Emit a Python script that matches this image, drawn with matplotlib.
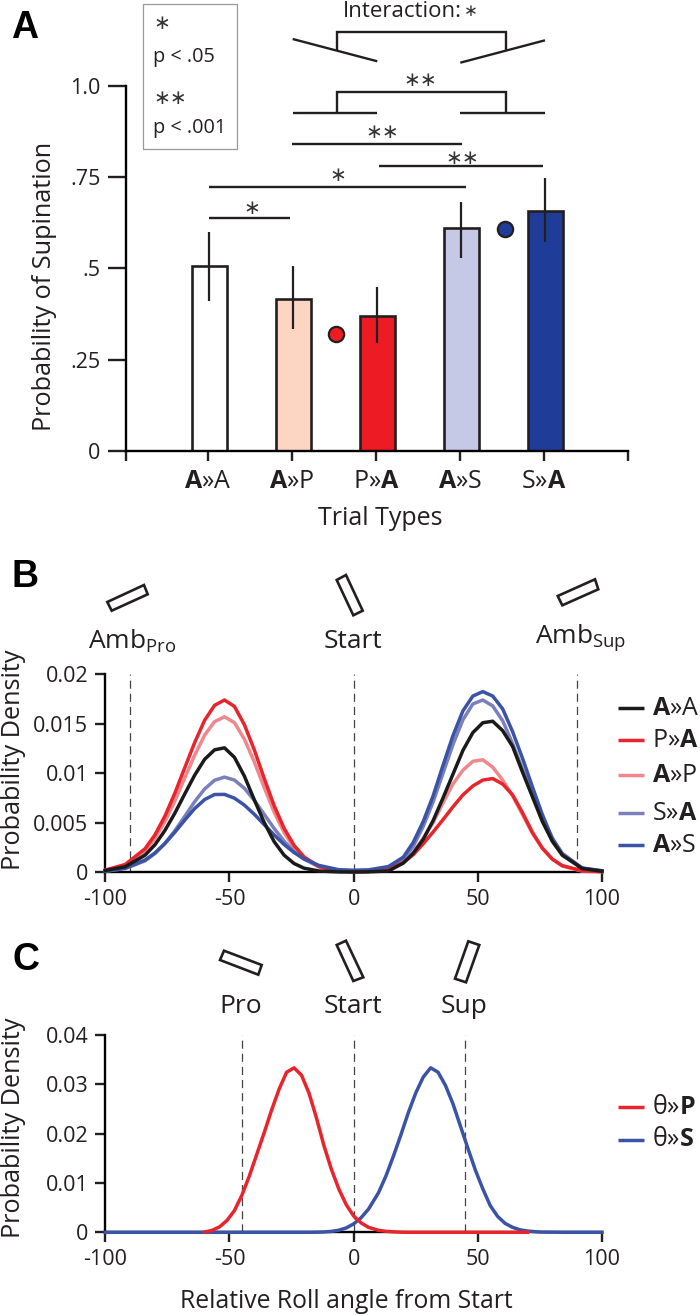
#!/usr/bin/env python3
import numpy as np
import matplotlib
matplotlib.use('Agg')
import matplotlib.pyplot as plt
from matplotlib.patches import Polygon, Rectangle

W, H = 700, 1315
INK = '#231f20'
FONT = 'Open Sans'

plt.rcParams['font.family'] = [FONT, 'DejaVu Sans']
plt.rcParams['mathtext.fontset'] = 'custom'
plt.rcParams['mathtext.rm'] = FONT
plt.rcParams['mathtext.bf'] = FONT + ':bold'
plt.rcParams['text.color'] = INK

# Panel A
trial_types = [r'$\mathbf{A}$»A', r'$\mathbf{A}$»P', r'P»$\mathbf{A}$', r'$\mathbf{A}$»S', r'S»$\mathbf{A}$']
prob_sup = [0.506, 0.417, 0.369, 0.61, 0.657]
err_low = [0.41, 0.334, 0.295, 0.528, 0.572]
err_high = [0.60, 0.507, 0.45, 0.682, 0.746]
bar_colors = ['white', '#fcd5c3', '#ed1c24', '#c5c9e5', '#1f3c98']
dot_x = [1.518, 3.536]
dot_y = [0.32, 0.608]
dot_colors = ['#ed1c24', '#1f3c98']
a_yticks = [0, 0.25, 0.5, 0.75, 1.0]
a_ylabels = ['0', '.25', '.5', '.75', '1.0']

# Panel B, densities in thousandths
b_x = [-100, -92, -84, -80, -76, -72, -68, -64, -60, -56, -52, -48, -44, -40, -36, -32, -28, -24, -20, -14, -6, 0,
       6, 14, 20, 24, 28, 32, 36, 40, 44, 48, 52, 56, 60, 64, 68, 72, 76, 80, 84, 92, 100]
b_aa = [.15, .53, 1.7, 2.76, 4.2, 5.95, 7.9, 9.8, 11.4, 12.36, 12.56, 11.6, 9.7, 7.3, 5.0, 3.07, 1.7, .86, .39, .1, .01, 0,
        .02, .1, .9, 1.9, 3.3, 5.2, 7.5, 9.9, 12.3, 14.1, 15.1, 15.25, 14.3, 12.7, 10.1, 7.6, 5.1, 3.1, 1.7, .35, .08]
b_pa = [.19, .76, 2.35, 3.76, 5.65, 7.97, 10.55, 13.1, 15.35, 16.86, 17.4, 16.75, 14.9, 12.35, 9.46, 6.7, 4.42, 2.7, 1.53, .56, .11, .02,
        .05, .3, .95, 1.75, 2.85, 4.05, 5.3, 6.6, 7.8, 8.7, 9.3, 9.45, 8.9, 7.8, 6.0, 4.0, 2.4, 1.3, .65, .12, .03]
b_ap = [.17, .69, 2.12, 3.39, 5.1, 7.19, 9.52, 11.82, 13.85, 15.21, 15.7, 15.11, 13.44, 11.14, 8.54, 6.05, 3.99, 2.44, 1.38, .5, .1, .02,
        .05, .3, 1.1, 2.0, 3.4, 5.0, 7.0, 8.9, 10.3, 11.2, 11.35, 10.6, 9.3, 7.7, 5.8, 3.9, 2.4, 1.3, .6, .1, .03]
b_sa = [.08, .34, 1.13, 1.87, 2.89, 4.17, 5.63, 7.12, 8.4, 9.28, 9.6, 9.3, 8.47, 7.25, 5.83, 4.4, 3.12, 2.07, 1.3, .57, .15, .1,
        .12, .45, 1.3, 2.6, 4.6, 7.1, 10.0, 12.9, 15.4, 17.0, 17.4, 16.8, 15.3, 13.0, 10.4, 7.9, 5.4, 3.4, 1.9, .4, .1]
b_as = [.1, .39, 1.21, 1.93, 2.88, 4.02, 5.25, 6.42, 7.33, 7.84, 7.85, 7.47, 6.77, 5.84, 4.79, 3.75, 2.78, 1.97, 1.33, .67, .23, .18,
        .22, .55, 1.5, 3.0, 5.1, 7.7, 10.8, 13.8, 16.3, 17.8, 18.25, 17.8, 16.5, 14.2, 11.5, 8.6, 5.8, 3.4, 1.8, .4, .13]
b_yticks = [0, 0.005, 0.01, 0.015, 0.02]
b_ylabels = ['0', '0.005', '0.01', '0.015', '0.02']
b_marks = [-90, 0, 90]

# Panel C, densities in thousandths (nan where the red line is hidden under the blue one)
c_x = [-100, -80, -66, -63, -60, -57, -54, -51, -48, -45, -42, -39, -36, -33, -30, -27, -24, -21, -18, -15, -12, -9,
       -6, -3, 0, 3, 6, 10, 13, 16, 19, 22, 25, 28, 31, 34, 37, 40, 43, 46, 49, 52, 55, 58, 61, 64, 67, 70, 75, 85, 100]
c_p = [np.nan, np.nan, np.nan, np.nan, .05, .4, 1.1, 2.4, 4.4, 7.5, 11.4, 15.8, 20.2, 24.8, 29.0, 32.4, 33.3, 31.8, 28.2, 23.2, 17.6, 12.8,
       8.8, 5.6, 3.3, 1.9, 1.0, .4, .2, .1, .03, 0, 0, 0, 0, 0, 0, 0, 0, 0, 0, 0, 0, 0, 0, 0, 0, 0, np.nan, np.nan, np.nan]
c_s = [0, 0, 0, 0, 0, 0, 0, 0, 0, 0, 0, 0, 0, 0, 0, 0, 0, 0, .01, .02, .07, .18,
       .42, .88, 1.7, 2.95, 4.7, 8.0, 11.4, 15.4, 19.7, 24.2, 28.2, 31.4, 33.3, 32.4, 29.7, 26.0, 21.5, 17.0, 12.6, 8.8, 5.4, 3.2, 1.8, 1.0, .5, .25, .05, 0, 0]
c_yticks = [0, 0.01, 0.02, 0.03, 0.04]
c_ylabels = ['0', '0.01', '0.02', '0.03', '0.04']
c_marks = [-45, 0, 45]

roll_ticks = [-100, -50, 0, 50, 100]
roll_labels = ['-100', '-50', '0', '50', '100']

RED = '#e8242c'
PINK = '#f0878c'
BLACK = '#1a1a1a'
PURPLE = '#7a80bd'
BLUE = '#3a53a4'


def axes_px(fig, left, right, top, bottom):
    return fig.add_axes([left / W, 1 - bottom / H, (right - left) / W, (bottom - top) / H])


def style(ax):
    ax.spines['top'].set_visible(False)
    ax.spines['right'].set_visible(False)
    ax.spines['left'].set_linewidth(1.7)
    ax.spines['bottom'].set_linewidth(1.7)
    ax.patch.set_alpha(0)


def density_axes(fig, top, bottom, yticks, ylabels, ymax, marks):
    ax = axes_px(fig, 105.3, 602, top, bottom)
    style(ax)
    ax.set_xlim(-100, 100)
    ax.set_ylim(0, ymax)
    ax.set_xticks(roll_ticks)
    ax.set_xticklabels(roll_labels)
    ax.set_yticks(yticks)
    ax.set_yticklabels(ylabels)
    ax.tick_params(axis='both', length=7.2, width=1.7, color=INK, labelsize=15.5, labelcolor=INK)
    ax.tick_params(axis='x', pad=5)
    ax.tick_params(axis='y', pad=5)
    for m in marks:
        ax.plot([m, m], [0, ymax], color='#444444', lw=0.9, dashes=(6.5, 4), zorder=1)
    return ax


fig = plt.figure(figsize=(W / 100, H / 100), dpi=100)
fig.patch.set_facecolor('white')

# A
ax_a = axes_px(fig, 126, 628, 85.7, 451)
style(ax_a)
pos = np.arange(len(prob_sup))
ax_a.bar(pos + 0.02, prob_sup, width=0.42, color=bar_colors, edgecolor=INK, linewidth=1.9, zorder=2)
ax_a.vlines(pos + 0.012, err_low, err_high, color=INK, lw=1.6, zorder=3)
for x, y, c in zip(dot_x, dot_y, dot_colors):
    ax_a.plot([x], [y], 'o', ms=11, mfc=c, mec=INK, mew=1.6, zorder=3)
ax_a.set_xlim(-0.976, 5)
ax_a.set_ylim(0, 1)
ax_a.set_xticks([-0.976, 0, 1, 2, 3, 4, 5])
ax_a.set_xticklabels([''] + trial_types + [''])
ax_a.set_yticks(a_yticks)
ax_a.set_yticklabels(a_ylabels)
ax_a.tick_params(axis='y', length=13, width=1.7, color=INK, labelsize=15.5, labelcolor=INK, pad=5.5)
ax_a.tick_params(axis='x', length=7.2, width=1.7, color=INK, labelsize=18, labelcolor=INK, pad=6)

# B
ax_b = density_axes(fig, 674.3, 872, b_yticks, b_ylabels, 0.02, b_marks)
b_series = [(b_ap, PINK), (b_sa, PURPLE), (b_pa, RED), (b_as, BLUE), (b_aa, BLACK)]
for vals, c in b_series:
    ax_b.plot(b_x, np.array(vals) / 1000, color=c, lw=2.5, clip_on=False, zorder=3, solid_joinstyle='round')

# C
ax_c = density_axes(fig, 1034.7, 1232.3, c_yticks, c_ylabels, 0.04, c_marks)
ax_c.plot(c_x, np.array(c_s) / 1000, color=BLUE, lw=2.5, clip_on=False, zorder=3)
ax_c.plot(c_x, np.array(c_p) / 1000, color=RED, lw=2.5, clip_on=False, zorder=4)

# everything else sits on a pixel-sized overlay
ov = fig.add_axes([0, 0, 1, 1], zorder=5)
ov.set_xlim(0, W)
ov.set_ylim(H, 0)
ov.axis('off')

for label, x, y in [('A', 11, 38), ('B', 12, 587), ('C', 12, 970)]:
    ov.text(x, y, label, family='Liberation Sans', weight='bold', size=27, color='black', ha='left', va='baseline')

ov.text(45, 286, 'Probability of Supination', rotation=90, size=18.2, ha='center', va='center')
ov.text(380, 518, 'Trial Types', size=18, ha='center', va='center')
ov.text(14, 760, 'Probability Density', rotation=90, size=18.2, ha='center', va='center')
ov.text(14, 1128, 'Probability Density', rotation=90, size=18.2, ha='center', va='center')
ov.text(346, 1308, 'Relative Roll angle from Start', size=17.8, ha='center', va='baseline')

# p value key
ov.add_patch(Rectangle((143, 4.3), 94.3, 144.4, fc='white', ec='#999999', lw=0.9))
ov.text(153, 62, 'p < .05', size=14.3, va='baseline')
ov.text(153, 133, 'p < .001', size=14.3, va='baseline')


def stars(x, y, s, size=14.5, ha='center'):
    ov.text(x, y, s, family='DejaVu Sans', size=size, ha=ha, va='center', color='#333333')


stars(153, 23, '∗', ha='left')
stars(153, 98, '∗∗', ha='left')

# significance brackets
sig_lines = [
    ([209, 290], [217.7, 217.7]),
    ([209, 466], [187, 187]),
    ([291.7, 462.3], [144, 144]),
    ([379, 543.3], [166.3, 166.3]),
    ([292.7, 377.3], [113, 113]),
    ([460.3, 545], [113, 113]),
    ([336.7, 336.7, 505.7, 505.7], [113, 92.3, 92.3, 113]),
    ([336.7, 336.7, 505.7, 505.7], [50, 32, 32, 50]),
    ([292.7, 377.3], [39, 61.3]),
    ([460.3, 545], [62.7, 40.3]),
]
for xs, ys in sig_lines:
    ov.plot(xs, ys, color=INK, lw=1.7, solid_capstyle='butt', solid_joinstyle='miter')
stars(252, 208, '∗')
stars(337.7, 175, '∗')
stars(382, 132.7, '∗∗')
stars(462.7, 158, '∗∗')
stars(420, 80, '∗∗')
ov.text(343, 17, 'Interaction:', size=16, ha='left', va='baseline')
stars(471, 10.7, '∗', size=12)

# wrist orientation icons
icons = [
    [(107.3, 602), (144, 585), (147.7, 594.3), (111.7, 610.7)],
    [(336.7, 580), (346, 575), (362.7, 610.7), (353.3, 615.3)],
    [(557.7, 596), (595, 579.3), (598.3, 589.3), (562.3, 605.3)],
    [(224, 950.7), (261.7, 965), (258.3, 974.7), (220, 960)],
    [(336.7, 945), (346, 940.7), (363.3, 977.3), (353.3, 981)],
    [(468.3, 941.3), (479.3, 945), (466, 982.3), (455, 978.7)],
]
for pts in icons:
    ov.add_patch(Polygon(pts, closed=True, fc='white', ec=INK, lw=1.9))

ov.text(88, 648, r'Amb$_{\mathrm{Pro}}$', size=19, va='baseline')
ov.text(353, 648, 'Start', size=19, ha='center', va='baseline')
ov.text(535, 643, r'Amb$_{\mathrm{Sup}}$', size=19, va='baseline')
ov.text(241, 1013, 'Pro', size=19, ha='center', va='baseline')
ov.text(353, 1013, 'Start', size=19, ha='center', va='baseline')
ov.text(464, 1013, 'Sup', size=19, ha='center', va='baseline')

# legends
b_legend = [(r'$\mathbf{A}$»A', BLACK, 708), (r'P»$\mathbf{A}$', RED, 740), (r'$\mathbf{A}$»P', PINK, 775),
            (r'S»$\mathbf{A}$', PURPLE, 813), (r'$\mathbf{A}$»S', BLUE, 845)]
c_legend = [(r'θ»$\mathbf{P}$', RED, 1107), (r'θ»$\mathbf{S}$', BLUE, 1139.7)]
for label, c, y in b_legend + c_legend:
    ov.plot([618, 644], [y, y], color=c, lw=2.5, solid_capstyle='butt')
    ov.text(652, y, label, size=18, va='center')

fig.savefig('out.png', dpi=100)
